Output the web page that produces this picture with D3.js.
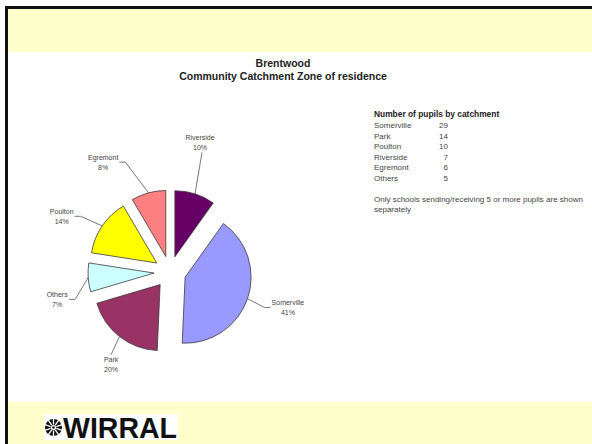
<!DOCTYPE html>
<html lang="en">
<head>
<meta charset="UTF-8">
<title>Brentwood catchment</title>
<script src="https://d3js.org/d3.v7.min.js"></script>
<style>
  body { margin: 0; background: #fff; }
  svg { display: block; font-family: "Liberation Sans", Arial, sans-serif; }
  .slice { stroke: #3a3a3a; stroke-width: 0.8px; }
  .lbl { font-size: 7px; fill: #444; }
  .leader { fill: none; stroke: #555; stroke-width: 0.8px; }
</style>
</head>
<body>
<div id="chart"></div>
<script>
// pie order, clockwise from 12 o'clock
var categories = ["Riverside", "Somerville", "Park", "Others", "Poulton", "Egremont"];
var pupils = [7, 29, 14, 5, 10, 6];
var colours = ["#660066", "#9999ff", "#993366", "#ccffff", "#ffff00", "#ff8080"];
var titleLines = ["Brentwood", "Community Catchment Zone of residence"];
var tableTitle = "Number of pupils by catchment";
var noteLines = ["Only schools sending/receiving 5 or more pupils are shown", "separately"];

var W = 592, H = 444;
var svg = d3.select("#chart").append("svg").attr("width", W).attr("height", H);

// slide background: yellow header / footer bands, black frame top+left
svg.append("rect").attr("x", 0).attr("y", 0).attr("width", W).attr("height", H).attr("fill", "#fff");
svg.append("rect").attr("x", 8).attr("y", 8).attr("width", W - 8).attr("height", 44).attr("fill", "#ffffcc");
svg.append("rect").attr("x", 8).attr("y", 402).attr("width", W - 8).attr("height", H - 402).attr("fill", "#ffffcc");
svg.append("rect").attr("x", 5).attr("y", 6).attr("width", W - 5).attr("height", 3).attr("fill", "#111");
svg.append("rect").attr("x", 5).attr("y", 6).attr("width", 3).attr("height", H - 6).attr("fill", "#111");

// titles
svg.selectAll(".title").data(titleLines).enter().append("text")
    .attr("class", "title")
    .attr("x", 283).attr("y", function (d, i) { return 67 + i * 13; })
    .attr("text-anchor", "middle")
    .attr("font-size", 10.5).attr("font-weight", "bold").attr("fill", "#222")
    .text(function (d) { return d; });

// pie
var data = categories.map(function (c, i) { return { name: c, value: pupils[i] }; });
var total = d3.sum(pupils);
var colour = d3.scaleOrdinal(categories, colours);
var cx = 170, cy = 272, r = 66, explode = 16;

var pie = d3.pie().sort(null).value(function (d) { return d.value; });
var arc = d3.arc().innerRadius(0).outerRadius(r);
var arcs = pie(data);

var g = svg.append("g").attr("transform", "translate(" + cx + "," + cy + ")");

function mid(a) { return (a.startAngle + a.endAngle) / 2; }

g.selectAll(".slice").data(arcs).enter().append("path")
    .attr("class", "slice")
    .attr("transform", function (d) {
        var p = d3.pointRadial(mid(d), explode);
        return "translate(" + p[0] + "," + p[1] + ")";
    })
    .attr("fill", function (d) { return colour(d.data.name); })
    .attr("d", arc);

// label placement (angle nudge in degrees from the bisector, distance from centre)
var labelPlace = {
    Riverside: [-4.7, 133], Somerville: [-2.5, 123], Park: [-5.3, 109],
    Others: [-9.6, 116], Poulton: [-6.8, 122], Egremont: [-16, 129]
};

var pct = function (v) { return Math.round(v / total * 100) + "%"; };

arcs.forEach(function (d) {
    var pl = labelPlace[d.data.name];
    var a = mid(d) + pl[0] * Math.PI / 180;
    var c = d3.pointRadial(a, pl[1]);
    var t = g.append("text").attr("class", "lbl").attr("text-anchor", "middle");
    t.append("tspan").attr("x", c[0]).attr("y", c[1] - 2).text(d.data.name);
    t.append("tspan").attr("x", c[0]).attr("y", c[1] + 8).text(pct(d.data.value));
    var bb = t.node().getBBox();

    var off = d3.pointRadial(mid(d), explode);
    var s = d3.pointRadial(mid(d), r);
    var sx = s[0] + off[0], sy = s[1] + off[1];
    var pts;
    var my = bb.y + bb.height / 2;
    if (sx > bb.x + bb.width + 2) {
        pts = [[sx, sy], [bb.x + bb.width + 7, my], [bb.x + bb.width + 1, my]];
    } else if (sx < bb.x - 2) {
        pts = [[sx, sy], [bb.x - 7, my], [bb.x - 1, my]];
    } else if (sy < bb.y) {
        pts = [[sx, sy], [c[0], bb.y - 1]];
    } else {
        pts = [[sx, sy], [c[0] + 2, bb.y + bb.height + 1]];
    }
    g.insert("path", "text").attr("class", "leader").attr("d", d3.line()(pts));
});

// table at the right, sorted by number of pupils
var rows = data.slice().sort(function (a, b) { return b.value - a.value; });
var tx = 374, ty = 117;
svg.append("text").attr("x", tx).attr("y", ty)
    .attr("font-size", 8.4).attr("font-weight", "bold").attr("fill", "#222")
    .text(tableTitle);
var rowY = d3.scaleBand().domain(rows.map(function (d) { return d.name; }))
    .range([ty + 3, ty + 3 + rows.length * 10.6]);
var tr = svg.selectAll(".row").data(rows).enter().append("g")
    .attr("transform", function (d) { return "translate(0," + (rowY(d.name) + 8) + ")"; });
tr.append("text").attr("x", tx).attr("font-size", 8).attr("fill", "#444").text(function (d) { return d.name; });
tr.append("text").attr("x", 448).attr("text-anchor", "end").attr("font-size", 8).attr("fill", "#444")
    .text(function (d) { return d.value; });

svg.selectAll(".note").data(noteLines).enter().append("text")
    .attr("x", tx).attr("y", function (d, i) { return 202 + i * 9.5; })
    .attr("font-size", 8).attr("fill", "#444")
    .text(function (d) { return d; });

// WIRRAL logo on its white patch
svg.append("rect").attr("x", 44).attr("y", 414).attr("width", 134).attr("height", 26).attr("fill", "#fff");
var logo = svg.append("g").attr("transform", "translate(53.5,427.5)");
logo.append("circle").attr("r", 8.5).attr("fill", "#111");
d3.range(10).forEach(function (i) {
    var a = i / 10 * 2 * Math.PI;
    var p1 = d3.pointRadial(a, 3), p2 = d3.pointRadial(a, 9);
    logo.append("line").attr("x1", p1[0]).attr("y1", p1[1]).attr("x2", p2[0]).attr("y2", p2[1])
        .attr("stroke", "#fff").attr("stroke-width", 1.3);
});
logo.append("circle").attr("r", 2.6).attr("fill", "#fff");
logo.append("circle").attr("r", 1.3).attr("fill", "#111");
svg.append("text").attr("x", 63).attr("y", 438)
    .attr("font-size", 29).attr("font-weight", "bold").attr("fill", "#111")
    .attr("textLength", 114).attr("lengthAdjust", "spacingAndGlyphs")
    .text("WIRRAL");
</script>
</body>
</html>
